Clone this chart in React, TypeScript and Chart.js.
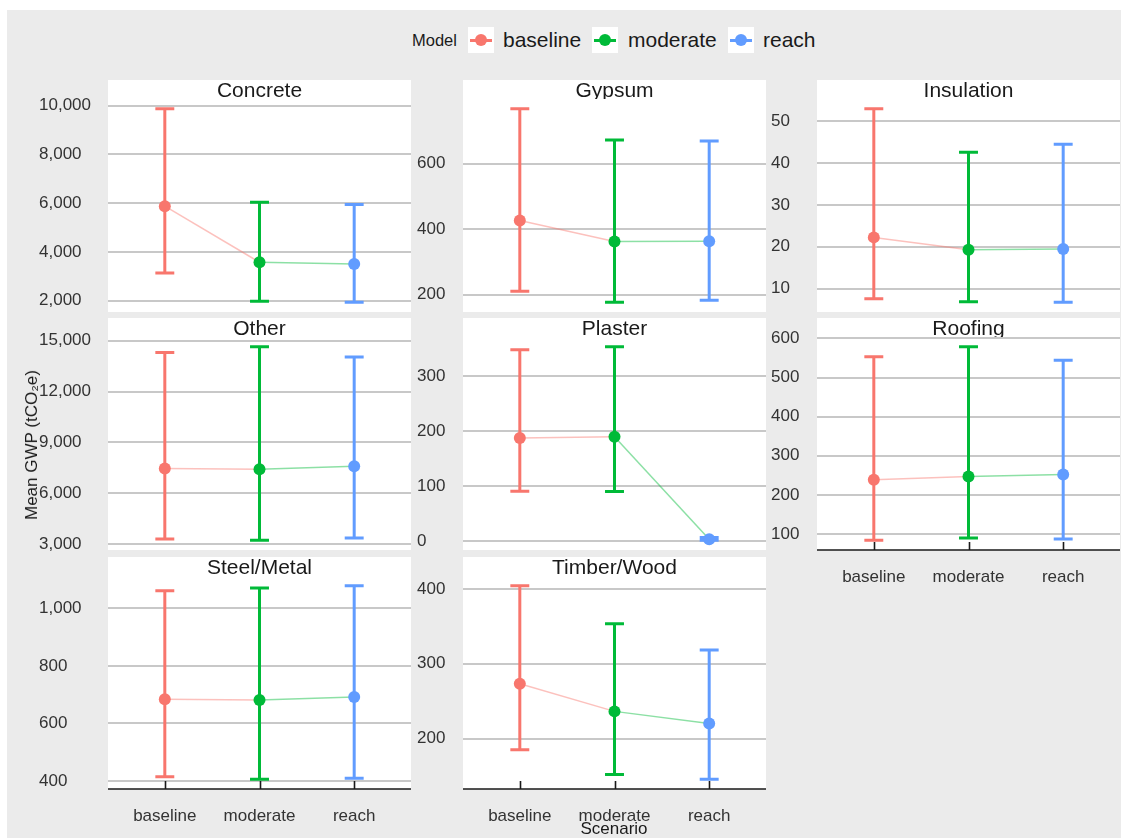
import React, { useEffect, useRef } from 'react';
import { Chart, registerables } from 'chart.js';

Chart.register(...registerables);

const FONT = '"Liberation Sans", Arial, Helvetica, sans-serif';
Chart.defaults.font.family = FONT;

// Scenario categories and model colours (ggplot hue palette)
const scenarios = ['baseline', 'moderate', 'reach'];
const modelColors = ['#F8766D', '#00BA38', '#619CFF'];
const segmentColors = ['rgba(248,118,109,0.45)', 'rgba(0,186,56,0.45)', 'rgba(97,156,255,0.45)'];

// Mean GWP (tCO2e) with lower / upper interval per scenario
const concreteMean = [5877, 3578, 3510];
const concreteLower = [3140, 1975, 1934];
const concreteUpper = [9877, 6041, 5947];
const concreteTicks = [2000, 4000, 6000, 8000, 10000];

const gypsumMean = [426.6, 362.3, 363];
const gypsumLower = [210, 176.4, 182.5];
const gypsumUpper = [768.4, 672.5, 669.4];
const gypsumTicks = [200, 400, 600];

const insulationMean = [22.24, 19.28, 19.45];
const insulationLower = [7.61, 6.9, 6.75];
const insulationUpper = [52.94, 42.55, 44.46];
const insulationTicks = [10, 20, 30, 40, 50];

const otherMean = [7465, 7424, 7601];
const otherLower = [3313, 3236, 3372];
const otherUpper = [14310, 14646, 14038];
const otherTicks = [3000, 6000, 9000, 12000, 15000];

const plasterMean = [187.2, 189.6, 3];
const plasterLower = [90.2, 89.7, 1];
const plasterUpper = [348, 353.5, 6];
const plasterTicks = [0, 100, 200, 300];

const roofingMean = [238.4, 246.9, 252];
const roofingLower = [83.6, 89.7, 87.2];
const roofingUpper = [553.1, 579, 544];
const roofingTicks = [100, 200, 300, 400, 500, 600];

const steelMean = [684, 681.7, 692];
const steelLower = [415, 406, 409.5];
const steelUpper = [1061, 1070.6, 1078.5];
const steelTicks = [400, 600, 800, 1000];

const timberMean = [273.4, 236.4, 220.1];
const timberLower = [185, 152.1, 145.6];
const timberUpper = [404.4, 353.4, 318.5];
const timberTicks = [200, 300, 400];

type PanelSpec = {
  title: string;
  mean: number[];
  lower: number[];
  upper: number[];
  ticks: number[];
  col: number;
  row: number;
  xAxis: boolean;
};

const panels: PanelSpec[] = [
  { title: 'Concrete', mean: concreteMean, lower: concreteLower, upper: concreteUpper, ticks: concreteTicks, col: 0, row: 0, xAxis: false },
  { title: 'Gypsum', mean: gypsumMean, lower: gypsumLower, upper: gypsumUpper, ticks: gypsumTicks, col: 1, row: 0, xAxis: false },
  { title: 'Insulation', mean: insulationMean, lower: insulationLower, upper: insulationUpper, ticks: insulationTicks, col: 2, row: 0, xAxis: false },
  { title: 'Other', mean: otherMean, lower: otherLower, upper: otherUpper, ticks: otherTicks, col: 0, row: 1, xAxis: false },
  { title: 'Plaster', mean: plasterMean, lower: plasterLower, upper: plasterUpper, ticks: plasterTicks, col: 1, row: 1, xAxis: false },
  { title: 'Roofing', mean: roofingMean, lower: roofingLower, upper: roofingUpper, ticks: roofingTicks, col: 2, row: 1, xAxis: true },
  { title: 'Steel/Metal', mean: steelMean, lower: steelLower, upper: steelUpper, ticks: steelTicks, col: 0, row: 2, xAxis: true },
  { title: 'Timber/Wood', mean: timberMean, lower: timberLower, upper: timberUpper, ticks: timberTicks, col: 1, row: 2, xAxis: true },
];

// Facet grid geometry
const colLabelLeft = [39, 417, 771];
const colPlotLeft = [108, 463, 817];
const PLOT_W = 303;
const rowStripTop = [80, 318, 557];
const STRIP_H = 19;
const PLOT_H = 213;
const X_AXIS_H = 42;
const BOTTOM_SPARE = 12;

const TICK_COLOR = '#333333';
const TEXT_COLOR = '#1a1a1a';

function Panel({ spec }: { spec: PanelSpec }) {
  const ref = useRef<HTMLCanvasElement>(null);
  const left = colLabelLeft[spec.col];
  const yAxisW = colPlotLeft[spec.col] - left;
  const width = yAxisW + PLOT_W;
  const bottomExtra = spec.xAxis ? X_AXIS_H : BOTTOM_SPARE;
  const height = STRIP_H + PLOT_H + bottomExtra;

  useEffect(() => {
    if (!ref.current) return;
    const lo = Math.min(...spec.lower);
    const hi = Math.max(...spec.upper);
    const pad = (hi - lo) * 0.05;

    const panelFrame = {
      id: 'panelFrame',
      beforeDraw(chart: any) {
        const { ctx, chartArea } = chart;
        ctx.save();
        ctx.fillStyle = '#ffffff';
        ctx.fillRect(chartArea.left, 0, chartArea.right - chartArea.left, chartArea.bottom);
        ctx.beginPath();
        ctx.rect(chartArea.left, 0, chartArea.right - chartArea.left, chartArea.top);
        ctx.clip();
        ctx.fillStyle = TEXT_COLOR;
        ctx.font = `21px ${FONT}`;
        ctx.textAlign = 'center';
        ctx.textBaseline = 'alphabetic';
        ctx.fillText(spec.title, (chartArea.left + chartArea.right) / 2, chartArea.top - 2.3);
        ctx.restore();
      },
    };

    const errorBars = {
      id: 'errorBars',
      beforeDatasetsDraw(chart: any) {
        const { ctx } = chart;
        const xs = chart.scales.x;
        const ys = chart.scales.y;
        ctx.save();
        ctx.lineWidth = 3;
        ctx.lineCap = 'butt';
        spec.mean.forEach((_, i) => {
          const x = xs.getPixelForValue(i);
          const half = xs.getPixelForValue(i + 0.1) - x;
          const yLo = ys.getPixelForValue(spec.lower[i]);
          const yHi = ys.getPixelForValue(spec.upper[i]);
          ctx.strokeStyle = modelColors[i];
          ctx.beginPath();
          ctx.moveTo(x, yLo);
          ctx.lineTo(x, yHi);
          ctx.moveTo(x - half, yLo);
          ctx.lineTo(x + half, yLo);
          ctx.moveTo(x - half, yHi);
          ctx.lineTo(x + half, yHi);
          ctx.stroke();
        });
        ctx.restore();
      },
    };

    const bottomAxis = {
      id: 'bottomAxis',
      afterDraw(chart: any) {
        if (!spec.xAxis) return;
        const { ctx, chartArea } = chart;
        const xs = chart.scales.x;
        ctx.save();
        ctx.strokeStyle = '#1a1a1a';
        ctx.lineWidth = 1.6;
        ctx.beginPath();
        ctx.moveTo(chartArea.left, chartArea.bottom);
        ctx.lineTo(chartArea.right, chartArea.bottom);
        scenarios.forEach((_, i) => {
          const x = Math.round(xs.getPixelForValue(i)) + 0.5;
          ctx.moveTo(x, chartArea.bottom);
          ctx.lineTo(x, chartArea.bottom - 8);
        });
        ctx.stroke();
        ctx.restore();
      },
    };

    const chart = new Chart(ref.current, {
      type: 'line',
      data: {
        datasets: [
          {
            data: spec.mean.map((v, i) => ({ x: i, y: v })),
            borderWidth: 1.5,
            borderColor: segmentColors[0],
            segment: {
              borderColor: (ctx: any) => segmentColors[ctx.p0DataIndex],
            },
            pointRadius: 6,
            pointBorderWidth: 0,
            pointBackgroundColor: modelColors,
            pointBorderColor: modelColors,
            fill: false,
            tension: 0,
          },
        ],
      },
      options: {
        animation: false,
        responsive: false,
        maintainAspectRatio: false,
        events: [],
        layout: {
          autoPadding: false,
          padding: { top: STRIP_H, bottom: spec.xAxis ? 0 : BOTTOM_SPARE, left: 0, right: 0 },
        },
        plugins: {
          legend: { display: false },
          tooltip: { enabled: false },
        },
        scales: {
          x: {
            type: 'linear',
            display: spec.xAxis,
            min: -0.6,
            max: 2.6,
            grid: { display: false, drawTicks: false },
            border: { display: false },
            afterBuildTicks: (scale: any) => {
              scale.ticks = scenarios.map((_, i) => ({ value: i }));
            },
            afterFit: (scale: any) => {
              scale.height = spec.xAxis ? X_AXIS_H : 0;
            },
            ticks: {
              padding: 17,
              maxRotation: 0,
              autoSkip: false,
              color: TICK_COLOR,
              font: { size: 17, family: FONT },
              callback: (value: any) => scenarios[Math.round(Number(value))] ?? '',
            },
          },
          y: {
            type: 'linear',
            min: lo - pad,
            max: hi + pad,
            grid: { color: '#c8c8c8', lineWidth: 2, drawTicks: false },
            border: { display: false },
            afterBuildTicks: (scale: any) => {
              scale.ticks = spec.ticks.map((v) => ({ value: v }));
            },
            afterFit: (scale: any) => {
              scale.width = yAxisW;
            },
            ticks: {
              crossAlign: 'far',
              padding: 0,
              color: TICK_COLOR,
              font: { size: 17, family: FONT },
              callback: (value: any) => Number(value).toLocaleString('en-US'),
            },
          },
        },
      } as any,
      plugins: [panelFrame, errorBars, bottomAxis],
    });
    return () => chart.destroy();
  }, []);

  return (
    <canvas
      ref={ref}
      width={width}
      height={height}
      style={{ position: 'absolute', left, top: rowStripTop[spec.row], width, height }}
    />
  );
}

function LegendKey({ color, left }: { color: string; left: number }) {
  return (
    <div style={{ position: 'absolute', left, top: 27, width: 26, height: 26, background: '#ffffff' }}>
      <div style={{ position: 'absolute', left: 2, top: 11.5, width: 22, height: 3, background: color }} />
      <div
        style={{
          position: 'absolute',
          left: 7,
          top: 7,
          width: 12,
          height: 12,
          borderRadius: '50%',
          background: color,
        }}
      />
    </div>
  );
}

const legendKeyLeft = [468, 592, 728];
const legendLabelLeft = [503, 628, 763];

export default function App() {
  return (
    <div
      style={{
        position: 'absolute',
        left: 0,
        top: 0,
        width: 1122,
        height: 838,
        overflow: 'hidden',
        background: '#ffffff',
        fontFamily: FONT,
      }}
    >
      <div style={{ position: 'absolute', left: 7, top: 10, width: 1114, height: 828, background: '#ebebeb' }} />

      {/* Legend */}
      <div
        style={{
          position: 'absolute',
          left: 412,
          top: 30,
          fontSize: 16.5,
          lineHeight: '20px',
          color: TEXT_COLOR,
          whiteSpace: 'nowrap',
        }}
      >
        Model
      </div>
      {scenarios.map((s, i) => (
        <React.Fragment key={s}>
          <LegendKey color={modelColors[i]} left={legendKeyLeft[i]} />
          <div
            style={{
              position: 'absolute',
              left: legendLabelLeft[i],
              top: 27,
              height: 26,
              fontSize: 21,
              lineHeight: '26px',
              color: TEXT_COLOR,
              whiteSpace: 'nowrap',
            }}
          >
            {s}
          </div>
        </React.Fragment>
      ))}

      {panels.map((p) => (
        <Panel key={p.title} spec={p} />
      ))}

      {/* Axis titles */}
      <div
        style={{
          position: 'absolute',
          left: 32,
          top: 445,
          transform: 'translate(-50%, -50%) rotate(-90deg)',
          fontSize: 17,
          lineHeight: '20px',
          color: TEXT_COLOR,
          whiteSpace: 'nowrap',
        }}
      >
        Mean GWP (tCO₂e)
      </div>
      <div
        style={{
          position: 'absolute',
          left: 614,
          top: 829,
          transform: 'translate(-50%, -50%)',
          fontSize: 17,
          lineHeight: '20px',
          color: TEXT_COLOR,
          whiteSpace: 'nowrap',
        }}
      >
        Scenario
      </div>
    </div>
  );
}
